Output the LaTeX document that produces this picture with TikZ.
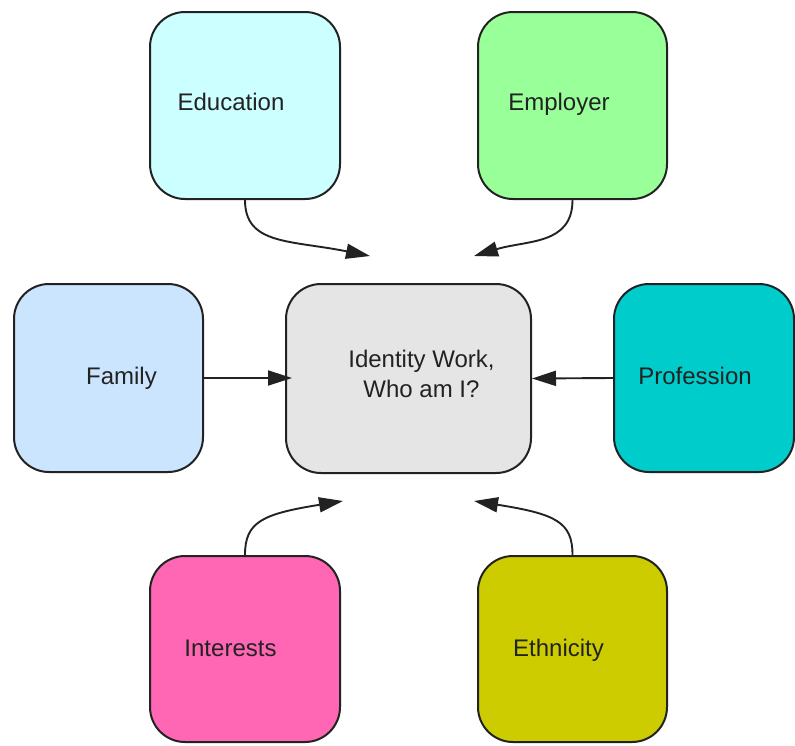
\documentclass[tikz,border=0pt]{standalone}
\usepackage{fontspec}
\setmainfont{Liberation Sans}
\usetikzlibrary{arrows.meta}
\definecolor{cEdu}{HTML}{CCFFFF}
\definecolor{cEmp}{HTML}{99FF99}
\definecolor{cFam}{HTML}{CCE5FF}
\definecolor{cCtr}{HTML}{E5E5E5}
\definecolor{cPro}{HTML}{00CCCC}
\definecolor{cInt}{HTML}{FF66B3}
\definecolor{cEth}{HTML}{CCCC00}
\definecolor{ink}{HTML}{222222}
\tikzset{
  box/.style={draw=ink, line width=2pt, rounded corners=35pt, inner sep=0pt,
    minimum width=189pt, minimum height=187pt},
  lab/.style={font=\fontsize{24}{30}\selectfont, text=ink, inner sep=0pt, anchor=base},
  conn/.style={draw=ink, line width=1.9pt, -{Triangle[length=24pt,width=15pt]}},
}
\begin{document}
\begin{tikzpicture}[x=1pt,y=-1pt]
\useasboundingbox (0,0) rectangle (795,745);
\node[box, fill=cEdu, minimum width=190pt] (edu) at (245,105.5) {};
\node[lab] (edut) at (231,110) {Education};
\node[box, fill=cEmp] (emp) at (572.5,105.5) {};
\node[lab] (empt) at (559,110) {Employer};
\node[box, fill=cFam, minimum height=188pt] (fam) at (108.5,378) {};
\node[lab] (famt) at (121.5,384) {Family};
\node[box, fill=cCtr, minimum width=245pt, minimum height=189pt] (ctr) at (408.5,378.5) {};
\node[lab, anchor=center, align=center] (ctrt) at (421.5,374) {Identity Work,\\Who am I?};
\node[box, fill=cPro, minimum width=180pt, minimum height=188pt] (pro) at (704,378) {};
\node[lab] (prot) at (695,384) {Profession};
\node[box, fill=cInt, minimum width=190pt, minimum height=186pt] (int) at (245,649) {};
\node[lab] (intt) at (230.5,656) {Interests};
\node[box, fill=cEth, minimum height=186pt] (eth) at (572.5,649) {};
\node[lab] (etht) at (558.5,656) {Ethnicity};

\coordinate (eduend) at (370,256);
\coordinate (empend) at (474,256);
\coordinate (intend) at (343,501);
\coordinate (ethend) at (474,501);
\coordinate (famend) at (292,378);

\draw[conn] (edu.south) .. controls (245,245) and (290,240) .. (eduend);
\draw[conn] (emp.south) .. controls (572.5,245) and (527,240) .. (empend);
\draw[conn] (int.north) .. controls (245,522) and (262,514) .. (intend);
\draw[conn] (eth.north) .. controls (572.5,522) and (556,514) .. (ethend);
\draw[conn] (fam.east) -- (famend);
\draw[conn] (pro.west) -- (ctr.east);
\end{tikzpicture}
\end{document}
